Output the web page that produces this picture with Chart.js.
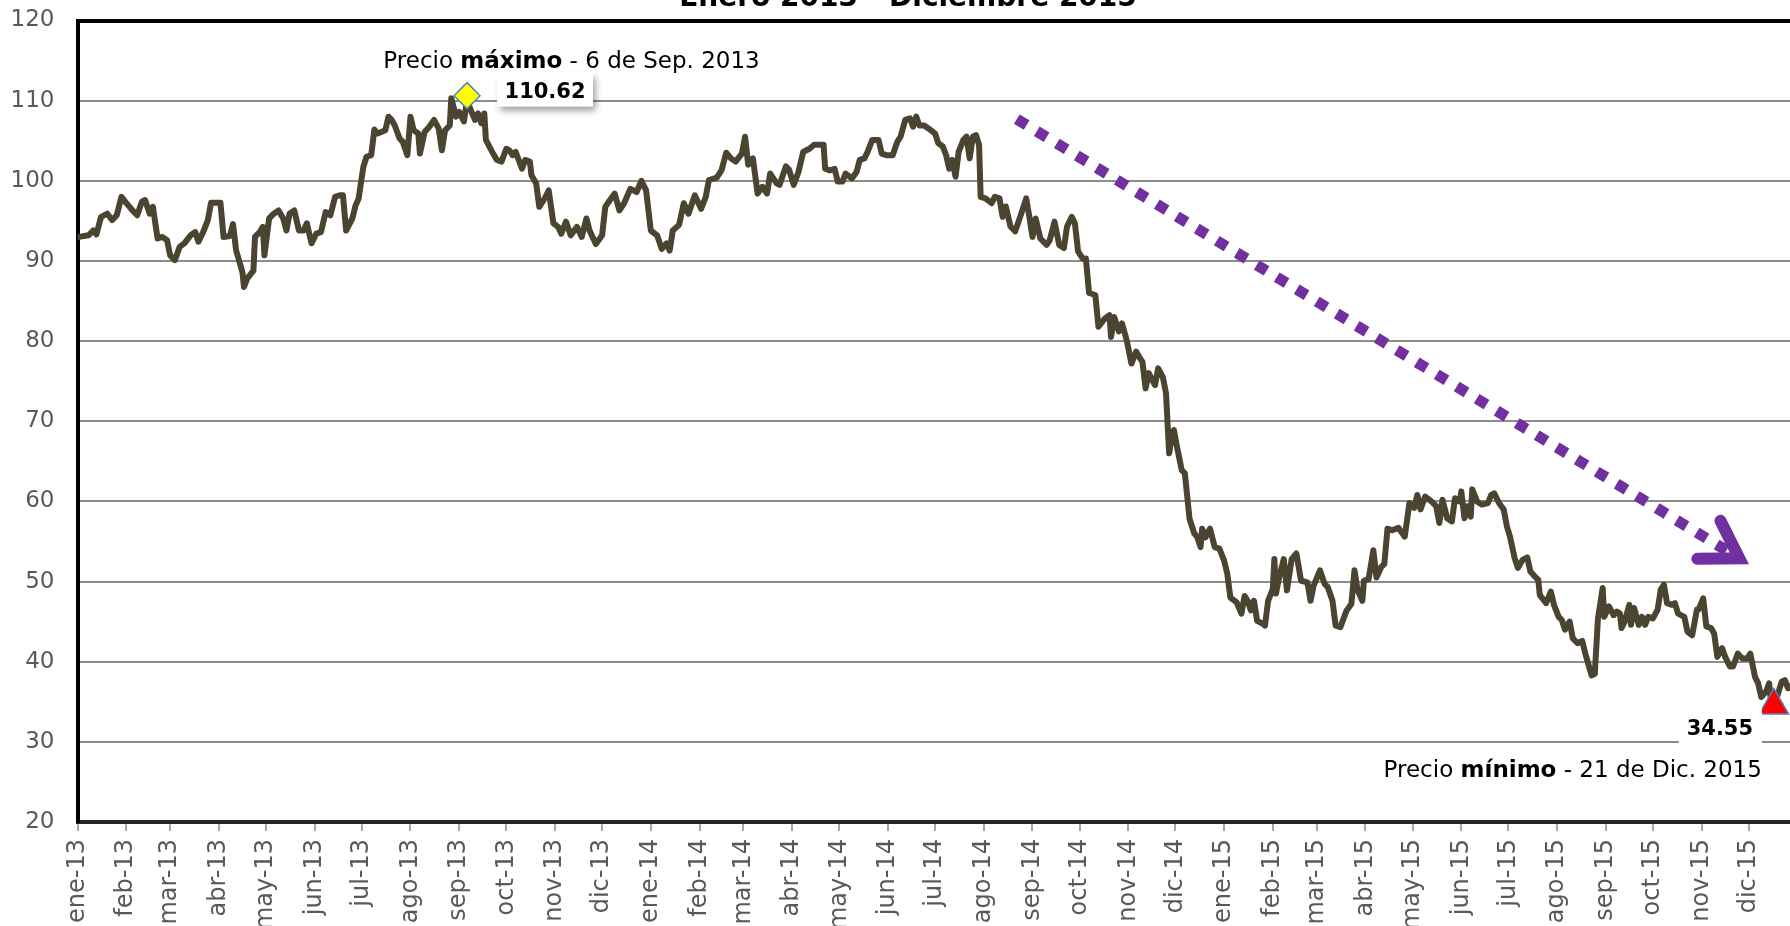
<!DOCTYPE html>
<html>
<head>
<meta charset="utf-8">
<script src="https://cdn.jsdelivr.net/npm/chart.js@4.4.1/dist/chart.umd.min.js"></script>
<style>
html, body { margin: 0; padding: 0; background: #ffffff; overflow: hidden; width: 1790px; height: 926px; }
#wrap { position: absolute; left: 0; top: 0; width: 1799px; height: 926px; }
</style>
</head>
<body>
<div id="wrap"><canvas id="c" width="1799" height="926"></canvas></div>
<script>
// ---------- DATA ----------
const chartTitle = 'Enero 2013 - Diciembre 2015';
const xTickLabels = [
  'ene-13','feb-13','mar-13','abr-13','may-13','jun-13','jul-13','ago-13','sep-13','oct-13','nov-13','dic-13',
  'ene-14','feb-14','mar-14','abr-14','may-14','jun-14','jul-14','ago-14','sep-14','oct-14','nov-14','dic-14',
  'ene-15','feb-15','mar-15','abr-15','may-15','jun-15','jul-15','ago-15','sep-15','oct-15','nov-15','dic-15'
];
const yTickValues = [20, 30, 40, 50, 60, 70, 80, 90, 100, 110, 120];

// days counted from 1 Jan 2013
const days2013 = [1,7,10,12,15,19,22,25,28,31,35,38,41,43,46,48,51,54,57,59,62,65,68,72,75,77,80,83,85,91,93,97,99,101,105,106,108,112,113,116,118,119,122,125,128,131,133,135,138,141,144,146,149,152,155,158,161,164,167,169,171,175,177,179,182,184,187,189,191,196,198,200,202,205,207,210,212,214,217,218,221,224,227,230,232,234,237,238,241,243,246,248,250,253,255,257,259,260,264,267,270,273,275,277,279,283,285,288,289,292,294,298,300];
const prices2013 = [93.0,93.2,93.8,93.3,95.5,95.9,95.1,95.7,98.0,97.25,96.3,95.7,97.4,97.6,95.9,96.75,92.8,93.0,92.6,90.7,90.1,91.75,92.2,93.2,93.6,92.4,93.6,95.1,97.25,97.25,93.0,93.1,94.6,91.3,88.6,86.75,87.8,88.8,93.0,93.6,94.25,90.7,95.3,95.9,96.3,95.3,93.8,95.9,96.3,93.8,93.8,94.7,92.2,93.4,93.6,96.1,95.7,98.0,98.2,98.2,93.8,95.3,96.9,97.8,101.75,103.0,103.2,106.4,105.9,106.3,108.0,107.6,106.9,105.3,104.9,103.2,108.0,106.3,105.9,103.4,106.1,106.75,107.6,106.5,103.8,106.3,106.9,110.3,108.0,108.6,107.4,110.1,109.0,107.6,108.4,107.2,108.4,105.1,103.6,102.6,102.4,104.0,103.8,103.2,103.6,101.5,102.6,102.4,100.7,99.7,96.75,98.0,98.8];

const days2014a = [303,306,308,311,314,318,321,324,326,330,334,336,339,342,345,348,352,356,359,362,365,369,372,375,377,379,383,386,389,393,397,400,402,407,410,413,416,419,423,425,427,430,433,436,439,441,445,447,451,453,456,459,462,466,469,475,476,479,482,484,487,489,493,496,498,501,503,506,510,512,515,519,522,524,527,530,532,534,536,539,542,546,548,551,553,555,557,559,561,564,566,568,570,572,574,575,578,582,584,587,589];
const prices2014a = [94.7,94.25,93.4,94.9,93.2,94.25,93.0,95.3,93.8,92.1,93.2,96.75,97.6,98.4,96.3,97.2,99.0,98.6,100.0,98.8,93.8,93.2,91.5,92.2,91.3,93.8,94.5,97.2,95.9,98.2,96.5,98.0,100.1,100.4,101.3,103.5,102.8,102.4,103.4,105.5,102.0,102.8,98.4,99.25,98.4,100.9,99.7,99.5,101.8,101.4,99.5,101.1,103.6,104.0,104.5,104.5,101.5,101.3,101.5,99.9,99.9,100.9,100.3,101.1,102.6,102.8,103.6,105.1,105.1,103.4,103.2,103.2,104.9,105.5,107.6,107.8,106.75,108.0,106.9,106.9,106.5,105.9,104.7,104.25,103.2,101.5,102.6,100.5,103.6,105.1,105.5,102.8,105.5,105.7,104.5,98.0,97.8,97.2,98.0,97.8,95.5];

const days2014b = [591,594,597,601,604,606,608,610,613,617,619,622,625,628,630,633,635,637,640,642,644,648,650,654,657,658,660,663,665,668,671,674,676,678,680,682,686,688,691,693,695,697,698,700,703,705,708,711,713,715,716,718,721,724,727,730,732,734,738,741,743,745,747,749,751,755,756,758,761,762,763,765,768,770,773,776,779,783,785,787,791,794,796,799,801,804,808,811,813,815,818,819,822,825,827,830,832,834,837];
const prices2014b = [96.8,94.3,93.7,96.0,97.8,95.5,93.0,95.3,92.8,92.0,92.6,94.9,92.0,91.6,94.3,95.5,94.7,91.2,90.3,90.3,86.0,85.75,81.8,82.8,83.25,80.5,83.0,81.2,82.2,80.1,77.2,78.7,78.0,77.4,74.1,76.0,74.5,76.6,75.5,73.5,66.0,68.5,68.9,66.8,63.9,63.5,57.8,56.0,55.5,54.3,56.6,55.5,56.6,54.3,54.1,52.6,51.0,48.0,47.4,46.0,48.2,47.6,46.4,47.6,45.1,44.7,44.5,47.6,49.1,52.8,48.5,50.5,52.8,48.9,52.8,53.5,50.1,49.9,47.6,49.5,51.4,49.7,49.3,47.6,44.5,44.3,46.4,47.2,51.4,48.9,47.6,50.1,50.3,53.9,50.5,51.8,52.2,56.6,56.4];

const days2015 = [841,845,848,851,853,855,858,862,865,867,869,872,875,877,880,881,883,885,887,888,891,894,898,900,902,905,908,910,912,915,917,920,923,925,928,930,931,935,938,940,943,945,947,950,952,955,958,960,962,964,966,968,970,971,972,975,978,980,982,983,985,988,989,991,994,996,998,1000,1003,1006,1008,1010,1012,1015,1017,1019,1023,1025,1028,1031,1032,1035,1037,1040,1042,1044,1047,1049,1052,1054,1057,1060,1063,1065,1068,1070,1072,1075,1077,1078,1080,1082,1085,1087,1089,1093];
const prices2015 = [56.7,55.6,59.8,59.2,60.8,59.0,60.6,60.0,59.4,57.3,60.2,57.9,57.5,60.4,60.0,61.25,57.9,59.4,58.1,61.5,60.0,59.6,59.8,60.8,61.0,59.8,59.0,56.9,55.6,52.9,51.7,52.7,53.0,51.25,50.6,50.2,48.3,47.3,48.75,47.1,45.6,45.2,44.0,45.0,42.9,42.3,42.6,41.0,39.6,38.3,38.5,45.4,47.9,49.2,45.6,46.9,45.8,46.25,46.0,44.2,45.0,47.1,44.6,46.7,44.6,45.6,44.6,45.6,45.4,46.5,49.0,49.6,47.3,47.1,47.3,46.0,45.6,43.75,43.3,46.5,46.5,47.9,44.4,44.2,43.5,40.6,41.7,40.6,39.4,39.4,41.0,40.4,40.4,41.0,38.1,37.3,35.6,36.25,37.3,35.4,34.55,35.6,37.5,37.7,36.7,37.2];

const maxDay = 248, maxValue = 110.62;
const maxCaption = ['Precio ', 'máximo', ' - 6 de Sep. 2013'];
const minDay = 1080, minValue = 34.55;
const minCaption = ['Precio ', 'mínimo', ' - 21 de Dic. 2015'];
const trendDays = [598, 1058];
const trendValues = [107.7, 52.9];

// ---------- BUILD ----------
const priceDays = [].concat(days2013, days2014a, days2014b, days2015);
const priceValues = [].concat(prices2013, prices2014a, prices2014b, prices2015);
const DAY0 = Date.UTC(2013, 0, 1);
const monthIdx = {ene:0,feb:1,mar:2,abr:3,may:4,jun:5,jul:6,ago:7,sep:8,oct:9,nov:10,dic:11};
const xTickDays = xTickLabels.map(l => {
  const [m, y] = l.split('-');
  return (Date.UTC(2000 + Number(y), monthIdx[m], 1) - DAY0) / 86400000;
});

const FONT = "'DejaVu Sans', 'Liberation Sans', sans-serif";
const GRAY_TXT = '#595959';
const PURPLE = '#7030a0';

function richText(ctx, parts, x, y, align, size) {
  const fonts = parts.map((p, i) => (i === 1 ? 'bold ' : '') + size + 'px ' + FONT);
  let w = 0;
  parts.forEach((p, i) => { ctx.font = fonts[i]; w += ctx.measureText(p).width; });
  let cx = align === 'center' ? x - w / 2 : (align === 'right' ? x - w : x);
  ctx.textAlign = 'left';
  ctx.textBaseline = 'alphabetic';
  parts.forEach((p, i) => { ctx.font = fonts[i]; ctx.fillText(p, cx, y); cx += ctx.measureText(p).width; });
}

const annotPlugin = {
  id: 'annot',
  afterDatasetsDraw(chart) {
    const ctx = chart.ctx;
    // arrow head of the trend arrow
    const tr = chart.getDatasetMeta(2).data;
    const a = tr[0], b = tr[tr.length - 1];
    let dx = a.x - b.x, dy = a.y - b.y;
    const L = Math.hypot(dx, dy); dx /= L; dy /= L;
    const ang = 32 * Math.PI / 180, len = 42;
    const arm = t => [b.x + len * (dx * Math.cos(t) - dy * Math.sin(t)), b.y + len * (dx * Math.sin(t) + dy * Math.cos(t))];
    const p1 = arm(ang), p2 = arm(-ang);
    ctx.save();
    ctx.strokeStyle = PURPLE; ctx.lineWidth = 12; ctx.lineCap = 'round'; ctx.lineJoin = 'miter';
    ctx.beginPath(); ctx.moveTo(p1[0], p1[1]); ctx.lineTo(b.x, b.y); ctx.lineTo(p2[0], p2[1]); ctx.stroke();
    ctx.restore();

    // max label
    const pm = chart.getDatasetMeta(0).data[0];
    ctx.save();
    ctx.shadowColor = 'rgba(0,0,0,0.40)'; ctx.shadowBlur = 7; ctx.shadowOffsetX = 3; ctx.shadowOffsetY = 4;
    ctx.fillStyle = '#ffffff';
    ctx.fillRect(pm.x + 30, pm.y - 23, 96, 34);
    ctx.restore();
    ctx.save();
    ctx.fillStyle = '#000000';
    ctx.font = 'bold 21px ' + FONT; ctx.textAlign = 'center'; ctx.textBaseline = 'alphabetic';
    ctx.fillText(maxValue.toFixed(2), pm.x + 78, pm.y + 2.6);
    richText(ctx, maxCaption, pm.x + 104.5, pm.y - 27.4, 'center', 23);
    ctx.restore();

    // min label
    const pn = chart.getDatasetMeta(1).data[0];
    ctx.save();
    ctx.fillStyle = '#ffffff';
    ctx.fillRect(pn.x - 95, pn.y + 3, 83, 40);
    ctx.fillStyle = '#000000';
    ctx.font = 'bold 21px ' + FONT; ctx.textAlign = 'center'; ctx.textBaseline = 'alphabetic';
    ctx.fillText(minValue.toFixed(2), pn.x - 54, pn.y + 29.5);
    richText(ctx, minCaption, pn.x - 12, pn.y + 71.5, 'right', 23);
    ctx.restore();
  },
  afterDraw(chart) {
    const ctx = chart.ctx;
    ctx.save();
    ctx.fillStyle = '#000000';
    ctx.font = 'bold 28px ' + FONT; ctx.textAlign = 'center'; ctx.textBaseline = 'alphabetic';
    ctx.fillText(chartTitle, 908, 6);
    ctx.restore();
  }
};

new Chart(document.getElementById('c'), {
  type: 'line',
  data: {
    datasets: [
      { label: 'max', data: [{ x: maxDay, y: maxValue }], showLine: false, pointStyle: 'rectRot', pointRadius: 13,
        pointBackgroundColor: '#ffff00', pointBorderColor: '#4f81bd', pointBorderWidth: 1.5 },
      { label: 'min', data: [{ x: minDay, y: minValue }], showLine: false, pointStyle: 'triangle', pointRadius: 17,
        pointBackgroundColor: '#ff0000', pointBorderColor: '#4f81bd', pointBorderWidth: 1.5 },
      { label: 'trend', data: trendDays.map((d, i) => ({ x: d, y: trendValues[i] })), borderColor: PURPLE,
        borderWidth: 11, borderDash: [11.5, 11.9], borderCapStyle: 'butt', pointRadius: 0, fill: false },
      { label: 'price', data: priceDays.map((d, i) => ({ x: d, y: priceValues[i] })), borderColor: '#4a4431',
        borderWidth: 6, pointRadius: 0, tension: 0, borderJoinStyle: 'round', borderCapStyle: 'round', fill: false }
    ]
  },
  options: {
    responsive: false,
    animation: false,
    devicePixelRatio: 1,
    layout: { autoPadding: false, padding: { top: 20.5, left: 0, right: 0, bottom: 0 } },
    plugins: { legend: { display: false }, tooltip: { enabled: false }, title: { display: false } },
    scales: {
      x: {
        type: 'linear', min: 0, max: 1096,
        afterBuildTicks: s => { s.ticks = xTickDays.map(v => ({ value: v })); },
        afterFit: s => { s.height = 104; s.paddingLeft = 0; s.paddingRight = 0; },
        ticks: { autoSkip: false, minRotation: 90, maxRotation: 90, padding: 8, color: GRAY_TXT,
                 font: { family: FONT, size: 24 }, callback: (v, i) => xTickLabels[i] },
        grid: { drawOnChartArea: false, drawTicks: true, tickLength: 9, color: '#a6a6a6', lineWidth: 2 },
        border: { display: true, color: '#262626', width: 4 }
      },
      y: {
        min: 20, max: 120,
        afterBuildTicks: s => { s.ticks = yTickValues.map(v => ({ value: v })); },
        afterFit: s => { s.width = 77.5; s.paddingTop = 0; s.paddingBottom = 0; },
        ticks: { padding: 23, color: GRAY_TXT, font: { family: FONT, size: 23 }, callback: v => String(v) },
        grid: { drawTicks: false,
                color: c => (c.tick && c.tick.value === 120) ? '#000000' : '#8c8c8c',
                lineWidth: c => (c.tick && c.tick.value === 120) ? 4 : 2 },
        border: { display: true, color: '#000000', width: 4 }
      }
    }
  },
  plugins: [annotPlugin]
});
</script>
</body>
</html>
